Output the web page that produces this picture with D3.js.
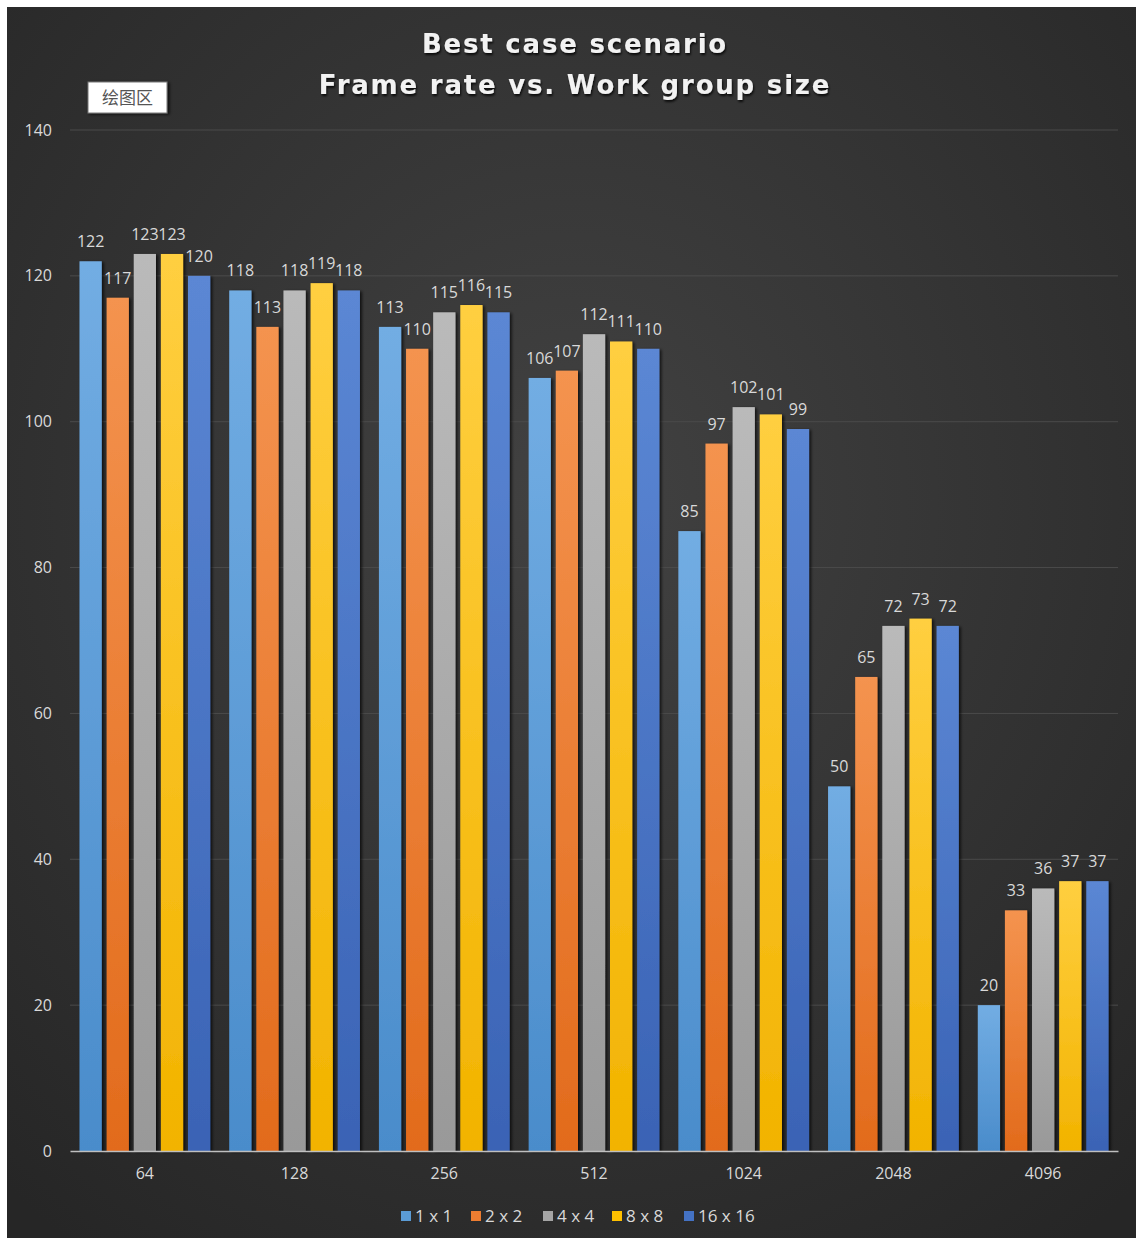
<!DOCTYPE html>
<html>
<head>
<meta charset="utf-8">
<script src="https://cdn.jsdelivr.net/npm/d3@7"></script>
<style>
  body { margin: 0; background: #ffffff; }
  text { font-family: "Open Sans", "Noto Sans CJK SC", sans-serif; }
</style>
</head>
<body>
<div id="chart"></div>
<script>
// values
var categories = ["64", "128", "256", "512", "1024", "2048", "4096"];
var seriesNames = ["1 x 1", "2 x 2", "4 x 4", "8 x 8", "16 x 16"];
var s1x1 = [122, 118, 113, 106, 85, 50, 20];
var s2x2 = [117, 113, 110, 107, 97, 65, 33];
var s4x4 = [123, 118, 115, 112, 102, 72, 36];
var s8x8 = [123, 119, 116, 111, 101, 73, 37];
var s16x16 = [120, 118, 115, 110, 99, 72, 37];
var yTicks = [0, 20, 40, 60, 80, 100, 120, 140];
var titleLines = ["Best case scenario", "Frame rate vs. Work group size"];

var seriesValues = [s1x1, s2x2, s4x4, s8x8, s16x16];
var colors = ["#5b9bd5", "#ed7d31", "#a5a5a5", "#ffc000", "#4472c4"];
var topColors = ["#72ade3", "#f4934f", "#bababa", "#ffcf40", "#5b87d4"];
var botColors = ["#4a8ccb", "#e26b1c", "#999999", "#f2b300", "#3a63b5"];

var W = 1136, H = 1241;
var margin = { top: 130, right: 18, bottom: 90, left: 70 },
    width = 1118 - margin.left,
    height = 1151 - margin.top;

var svg = d3.select("#chart").append("svg")
    .attr("width", W)
    .attr("height", H);

var defs = svg.append("defs");
var bg = defs.append("radialGradient").attr("id", "bg")
    .attr("cx", "50%").attr("cy", "40%").attr("r", "75%");
bg.append("stop").attr("offset", "0%").attr("stop-color", "#424242");
bg.append("stop").attr("offset", "100%").attr("stop-color", "#262626");

colors.forEach(function(c, i) {
    var g = defs.append("linearGradient").attr("id", "bar" + i)
        .attr("x1", 0).attr("y1", 0).attr("x2", 0).attr("y2", 1);
    g.append("stop").attr("offset", "0%").attr("stop-color", topColors[i]);
    g.append("stop").attr("offset", "100%").attr("stop-color", botColors[i]);
});

var shadow = defs.append("filter").attr("id", "shadow")
    .attr("x", "-30%").attr("y", "-10%").attr("width", "160%").attr("height", "120%");
shadow.append("feDropShadow").attr("dx", 2).attr("dy", 1)
    .attr("stdDeviation", 1.5).attr("flood-color", "#000").attr("flood-opacity", 0.7);

var tshadow = defs.append("filter").attr("id", "tshadow")
    .attr("x", "-10%").attr("y", "-30%").attr("width", "120%").attr("height", "160%");
tshadow.append("feDropShadow").attr("dx", 1).attr("dy", 2)
    .attr("stdDeviation", 1.2).attr("flood-color", "#000").attr("flood-opacity", 0.8);

svg.append("rect")
    .attr("x", 7).attr("y", 7)
    .attr("width", W - 7).attr("height", H - 10)
    .attr("fill", "url(#bg)");

// title
svg.append("g").selectAll("text")
    .data(titleLines)
    .enter().append("text")
    .attr("x", 575)
    .attr("y", function(d, i) { return 53 + i * 41; })
    .attr("text-anchor", "middle")
    .attr("fill", "#f2f2f2")
    .style("font-family", "\"DejaVu Sans\", sans-serif")
    .attr("font-size", 26)
    .attr("font-weight", "bold")
    .attr("letter-spacing", 1.8)
    .attr("filter", "url(#tshadow)")
    .text(function(d) { return d; });

var g = svg.append("g")
    .attr("transform", "translate(" + margin.left + "," + margin.top + ")");

var x0 = d3.scaleBand().domain(categories).range([0, width]).padding(0);
var x1 = d3.scaleBand().domain(seriesNames).range([0, x0.bandwidth()])
    .paddingInner(0.18).paddingOuter(0.35);
var y = d3.scaleLinear().domain([0, 140]).range([height, 0]);

// gridlines
g.append("g").selectAll("line")
    .data(yTicks.filter(function(t) { return t > 0; }))
    .enter().append("line")
    .attr("x1", 0).attr("x2", width)
    .attr("y1", function(d) { return y(d); })
    .attr("y2", function(d) { return y(d); })
    .attr("stroke", "#4b4b4b")
    .attr("stroke-width", 1);

// y axis labels
var yAxis = d3.axisLeft(y).tickValues(yTicks).tickSize(0).tickPadding(18);
g.append("g").attr("class", "axis axis--y").call(yAxis)
    .call(function(a) { a.select(".domain").remove(); })
    .selectAll("text")
    .attr("fill", "#d9d9d9")
    .attr("font-size", 16);

// bars
var groups = g.selectAll(".cat")
    .data(categories)
    .enter().append("g")
    .attr("class", "cat")
    .attr("transform", function(d) { return "translate(" + x0(d) + ",0)"; });

groups.selectAll("rect")
    .data(function(d, ci) {
        return seriesNames.map(function(s, si) { return { s: s, si: si, v: seriesValues[si][ci] }; });
    })
    .enter().append("rect")
    .attr("x", function(d) { return x1(d.s); })
    .attr("y", function(d) { return y(d.v); })
    .attr("width", x1.bandwidth())
    .attr("height", function(d) { return height - y(d.v); })
    .attr("fill", function(d) { return "url(#bar" + d.si + ")"; })
    .attr("filter", "url(#shadow)");

groups.selectAll(".lbl")
    .data(function(d, ci) {
        return seriesNames.map(function(s, si) { return { s: s, si: si, v: seriesValues[si][ci] }; });
    })
    .enter().append("text")
    .attr("class", "lbl")
    .attr("x", function(d) { return x1(d.s) + x1.bandwidth() / 2; })
    .attr("y", function(d) { return y(d.v) - 14; })
    .attr("text-anchor", "middle")
    .attr("fill", "#d9d9d9")
    .attr("font-size", 16)
    .text(function(d) { return d.v; });

// x axis
var xAxis = d3.axisBottom(x0).tickSize(0).tickPadding(17);
var xa = g.append("g").attr("class", "axis axis--x")
    .attr("transform", "translate(0," + height + ")")
    .call(xAxis);
xa.select(".domain").attr("stroke", "#bfbfbf").attr("stroke-width", 1.5);
xa.selectAll("text")
    .attr("fill", "#d9d9d9")
    .attr("font-size", 16);

// legend
var legendX = [401, 471, 543, 612, 684];
var legend = svg.append("g").selectAll("g")
    .data(seriesNames)
    .enter().append("g")
    .attr("transform", function(d, i) { return "translate(" + legendX[i] + ",1211)"; });
legend.append("rect")
    .attr("width", 10).attr("height", 10)
    .attr("fill", function(d, i) { return colors[i]; });
legend.append("text")
    .attr("x", 14).attr("y", 11)
    .attr("fill", "#d9d9d9")
    .attr("font-size", 17)
    .text(function(d) { return d; });

// "绘图区" tooltip box
var tip = svg.append("g").attr("transform", "translate(88,82)");
tip.append("rect")
    .attr("width", 79).attr("height", 31)
    .attr("fill", "#ffffff")
    .attr("stroke", "#767676")
    .attr("filter", "url(#shadow)");
tip.append("text")
    .attr("x", 39.5).attr("y", 22)
    .attr("text-anchor", "middle")
    .attr("fill", "#555555")
    .attr("font-size", 17)
    .style("font-family", "\"Noto Sans CJK SC\", sans-serif")
    .text("绘图区");
</script>
</body>
</html>
